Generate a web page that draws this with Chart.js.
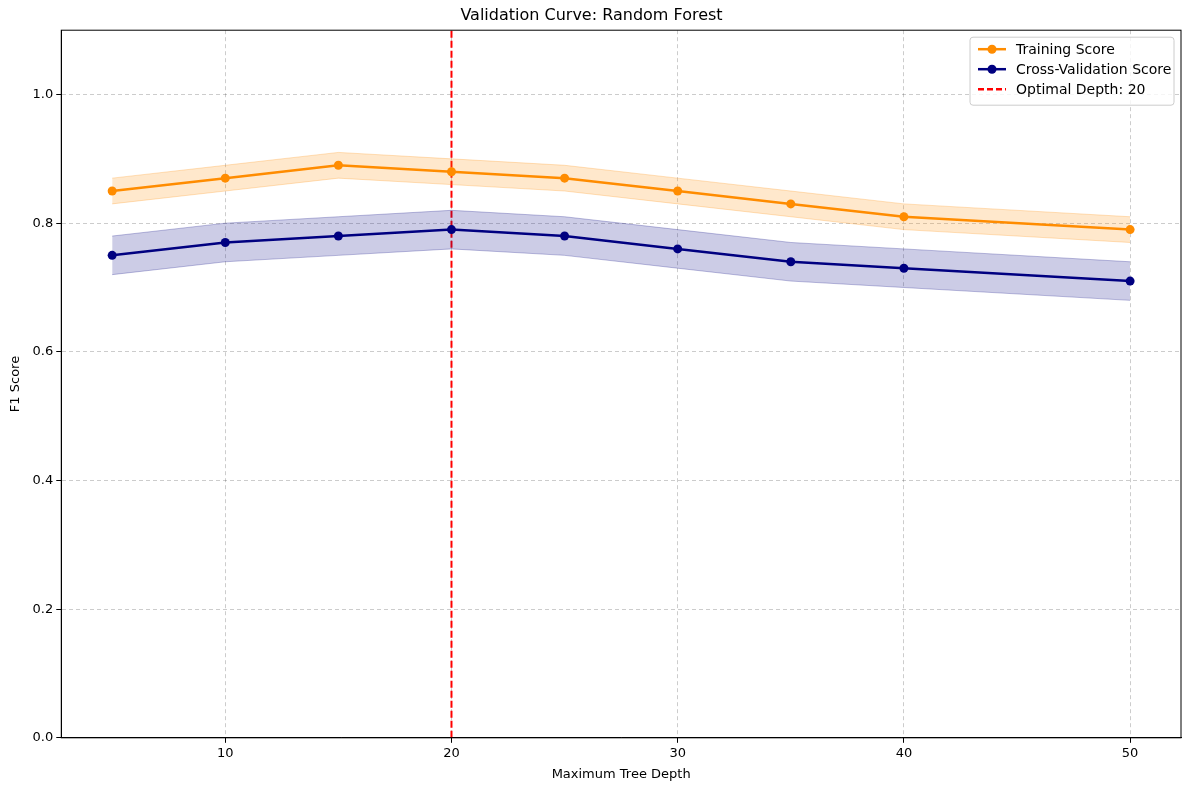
<!DOCTYPE html>
<html>
<head>
<meta charset="utf-8">
<script src="https://cdn.jsdelivr.net/npm/chart.js@4"></script>
<style>
  html, body { margin: 0; padding: 0; background: #fff; }
  #wrap { width: 1189px; height: 790px; }
</style>
</head>
<body>
<div id="wrap"><canvas id="chart"></canvas></div>
<script>
const depths = [5, 10, 15, 20, 25, 30, 35, 40, 50];
const trainScores = [0.85, 0.87, 0.89, 0.88, 0.87, 0.85, 0.83, 0.81, 0.79];
const trainStd = [0.02, 0.02, 0.02, 0.02, 0.02, 0.02, 0.02, 0.02, 0.02];
const cvScores = [0.75, 0.77, 0.78, 0.79, 0.78, 0.76, 0.74, 0.73, 0.71];
const cvStd = [0.03, 0.03, 0.03, 0.03, 0.03, 0.03, 0.03, 0.03, 0.03];
const optimalDepth = 20;
const xTicks = [10, 20, 30, 40, 50];
const yTicks = [0, 0.2, 0.4, 0.6, 0.8, 1.0];

const FONT = 'DejaVu Sans';
const pts = (ys) => depths.map((d, i) => ({ x: d, y: ys[i] }));
const band = (ys, sd, sign) => pts(ys.map((v, i) => v + sign * sd[i]));

const legendItems = [
  { label: 'Training Score', color: 'darkorange', marker: true },
  { label: 'Cross-Validation Score', color: 'navy', marker: true },
  { label: 'Optimal Depth: ' + optimalDepth, color: 'red', dash: true }
];

const framePlugin = {
  id: 'frame',
  afterDraw(chart) {
    const { ctx, chartArea: a } = chart;
    ctx.save();
    ctx.strokeStyle = '#000';
    ctx.lineWidth = 1;
    ctx.strokeRect(a.left, a.top, a.right - a.left, a.bottom - a.top);
    // legend
    ctx.font = '14px ' + FONT;
    const w = 204, h = 68, x0 = a.right - w - 7, y0 = a.top + 7;
    ctx.fillStyle = 'rgba(255,255,255,0.8)';
    ctx.strokeStyle = '#ccc';
    ctx.beginPath();
    ctx.roundRect(x0, y0, w, h, 3);
    ctx.fill(); ctx.stroke();
    legendItems.forEach((it, i) => {
      const cy = y0 + 12 + i * 20;
      ctx.strokeStyle = it.color;
      ctx.lineWidth = 2.5;
      ctx.setLineDash(it.dash ? [6, 3] : []);
      ctx.beginPath();
      ctx.moveTo(x0 + 8, cy); ctx.lineTo(x0 + 36, cy);
      ctx.stroke();
      ctx.setLineDash([]);
      if (it.marker) {
        ctx.fillStyle = it.color;
        ctx.beginPath(); ctx.arc(x0 + 22, cy, 4.5, 0, Math.PI * 2); ctx.fill();
      }
      ctx.fillStyle = '#000';
      ctx.textBaseline = 'middle';
      ctx.fillText(it.label, x0 + 46, cy + 1);
    });
    ctx.restore();
  }
};

new Chart(document.getElementById('chart'), {
  type: 'line',
  data: {
    datasets: [
      { data: band(trainScores, trainStd, 1), borderColor: 'rgba(255,140,0,0.25)', borderWidth: 1, pointRadius: 0, fill: false },
      { data: band(trainScores, trainStd, -1), borderColor: 'rgba(255,140,0,0.25)', borderWidth: 1, pointRadius: 0, fill: '-1', backgroundColor: 'rgba(255,140,0,0.2)' },
      { data: band(cvScores, cvStd, 1), borderColor: 'rgba(0,0,128,0.25)', borderWidth: 1, pointRadius: 0, fill: false },
      { data: band(cvScores, cvStd, -1), borderColor: 'rgba(0,0,128,0.25)', borderWidth: 1, pointRadius: 0, fill: '-1', backgroundColor: 'rgba(0,0,128,0.2)' },
      { data: pts(trainScores), borderColor: 'darkorange', backgroundColor: 'darkorange', borderWidth: 2.5, pointRadius: 4.5, pointBorderWidth: 0 },
      { data: pts(cvScores), borderColor: 'navy', backgroundColor: 'navy', borderWidth: 2.5, pointRadius: 4.5, pointBorderWidth: 0 },
      { data: [{ x: optimalDepth, y: 0 }, { x: optimalDepth, y: 1.1 }], borderColor: 'red', borderWidth: 2, borderDash: [7, 3], pointRadius: 0 }
    ]
  },
  options: {
    responsive: true,
    maintainAspectRatio: false,
    animation: false,
    layout: { padding: { left: 2, right: 8, top: 0, bottom: 6 } },
    plugins: {
      legend: { display: false },
      tooltip: { enabled: false },
      title: { display: true, text: 'Validation Curve: Random Forest', color: '#000', font: { family: FONT, size: 16, weight: 'normal' }, padding: { top: 6, bottom: 5 } }
    },
    scales: {
      x: {
        type: 'linear', min: 2.75, max: 52.25,
        afterBuildTicks: (s) => { s.ticks = xTicks.map(v => ({ value: v })); },
        ticks: { color: '#000', font: { family: FONT, size: 13 } },
        grid: { color: 'rgba(0,0,0,0.2)', tickColor: '#000', tickLength: 5 },
        border: { dash: [4, 3], color: '#000' },
        title: { display: true, text: 'Maximum Tree Depth', color: '#000', font: { family: FONT, size: 13 }, padding: 2 }
      },
      y: {
        min: 0, max: 1.1,
        afterBuildTicks: (s) => { s.ticks = yTicks.map(v => ({ value: v })); },
        ticks: { color: '#000', font: { family: FONT, size: 13 }, callback: (v) => v.toFixed(1) },
        grid: { color: 'rgba(0,0,0,0.2)', tickColor: '#000', tickLength: 5 },
        border: { dash: [4, 3], color: '#000' },
        title: { display: true, text: 'F1 Score', color: '#000', font: { family: FONT, size: 13 }, padding: 6 }
      }
    }
  },
  plugins: [framePlugin]
});
</script>
</body>
</html>
